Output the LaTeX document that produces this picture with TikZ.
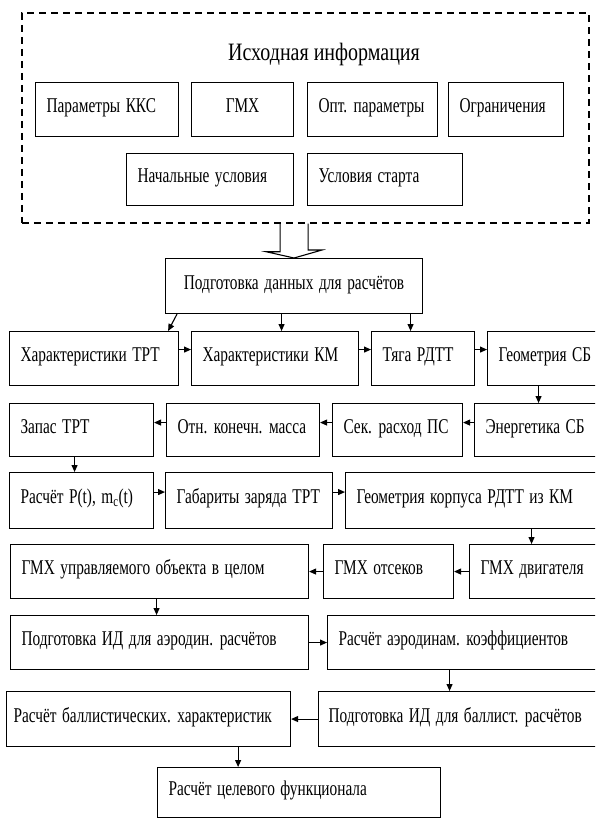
\documentclass[tikz,border=0pt]{standalone}
\usepackage{fontspec}
\setmainfont{Liberation Serif}[FakeStretch=0.73]
\newfontfamily\titlefont{Liberation Serif}[FakeStretch=0.8]
\usetikzlibrary{arrows.meta}

\tikzset{
  blk/.style={draw, line width=1.1pt, anchor=north west, inner xsep=11pt, inner ysep=0pt,
    text height=14pt, text depth=8pt, align=left, font=\fontsize{21}{24}\selectfont,
    execute at begin node={\spaceskip=5.5pt plus 1pt\xspaceskip=6.5pt plus 1pt\hbox to\hsize\bgroup},
    execute at end node={\hfil\egroup}},
  cblk/.style={draw, line width=1.1pt, anchor=north west, inner xsep=11pt, inner ysep=0pt,
    text height=14pt, text depth=8pt, align=center, font=\fontsize{21}{24}\selectfont,
    execute at begin node={\spaceskip=5.5pt plus 1pt\relax}},
  infobox/.style={draw, dash pattern=on 7pt off 5pt, line width=1.7pt, anchor=north west, inner sep=0pt},
  hollow/.style={line width=1.1pt, line join=miter},
  arr/.style={line width=1.1pt, -{Triangle[length=7pt,width=6pt]}},
}

\begin{document}
\begin{tikzpicture}[x=1pt, y=-1pt]
  \useasboundingbox (0,0) rectangle (595,819);
  \clip (0,0) rectangle (595,819);

  \node[infobox, minimum width=567pt, minimum height=210pt] (info) at (21,12) {};
  \node[font=\titlefont\fontsize{25}{28}\selectfont] (ttl) at (324,54) {Исходная информация};
  \node[blk, text width=121pt, minimum height=54pt] (kks) at (35,82) {Параметры ККС};
  \node[cblk, text width=80pt, minimum height=54pt] (gmx) at (191,82) {ГМХ};
  \node[blk, text width=108pt, minimum height=54pt] (opt) at (307,82) {Опт. параметры};
  \node[blk, text width=93pt, minimum height=54pt] (ogr) at (448,82) {Ограничения};
  \node[blk, text width=145pt, minimum height=52pt] (nu) at (126,153) {Начальные условия};
  \node[blk, text width=133pt, minimum height=52pt] (us) at (307,153) {Условия старта};

  \node[cblk, text width=235pt, minimum height=55pt] (pd) at (165,258) {Подготовка данных для расчётов};
  \draw[hollow] ([xshift=-14pt]pd.north |- info.south) -- ++(0,28) -- ++(-14,0) -- (pd.north)
    -- ++(28,-8) -- ++(-14,0) -- ([xshift=14pt]pd.north |- info.south);

  \node[blk, text width=147pt, minimum height=54pt] (htr) at (9,331) {Характеристики ТРТ};
  \node[blk, text width=145pt, minimum height=54pt] (hkm) at (191,331) {Характеристики КМ};
  \node[blk, text width=81pt, minimum height=54pt] (tyg) at (371,331) {Тяга РДТТ};
  \node[blk, text width=106pt, minimum height=54pt] (gsb) at (487,331) {Геометрия СБ};

  \node[blk, text width=122pt, minimum height=53pt] (ztr) at (9,403) {Запас ТРТ};
  \node[blk, text width=131pt, minimum height=53pt] (okm) at (166,403) {Отн. конечн. масса};
  \node[blk, text width=108pt, minimum height=53pt] (srp) at (332,403) {Сек. расход ПС};
  \node[blk, text width=119pt, minimum height=53pt] (esb) at (474,403) {Энергетика СБ};

  \node[blk, text width=122pt, minimum height=56pt] (rpt) at (9,472) {Расчёт P(t), m\textsubscript{c}(t)};
  \node[blk, text width=145pt, minimum height=56pt] (gzt) at (165,472) {Габариты заряда ТРТ};
  \node[blk, text width=248pt, minimum height=56pt] (gkr) at (345,472) {Геометрия корпуса РДТТ из КМ};

  \node[blk, text width=276pt, minimum height=54pt] (gob) at (10,544) {ГМХ управляемого объекта в целом};
  \node[blk, text width=108pt, minimum height=54pt] (got) at (323,544) {ГМХ отсеков};
  \node[blk, text width=124pt, minimum height=54pt] (gdv) at (469,544) {ГМХ двигателя};

  \node[blk, text width=276pt, minimum height=54pt] (ida) at (10,615) {Подготовка ИД для аэродин. расчётов};
  \node[blk, text width=266pt, minimum height=54pt] (rak) at (327,615) {Расчёт аэродинам. коэффициентов};

  \node[blk, inner xsep=7pt, text width=270pt, minimum height=55pt] (rbh) at (6,691) {Расчёт баллистических. характеристик};
  \node[blk, inner xsep=10pt, text width=277pt, minimum height=55pt] (idb) at (318,691) {Подготовка ИД для баллист. расчётов};

  \node[blk, text width=261pt, minimum height=50pt] (rcf) at (157,767) {Расчёт целевого функционала};

  \draw[arr] ([xshift=12pt]pd.south west) -- ([xshift=-11pt]htr.north east);
  \draw[arr] ([xshift=6.5pt]hkm.north |- pd.south) -- ([xshift=6.5pt]hkm.north);
  \draw[arr] ([xshift=-12.5pt]tyg.north |- pd.south) -- ([xshift=-12.5pt]tyg.north);

  \draw[arr] ([yshift=9pt]htr.east) -- ([yshift=9pt]hkm.west);
  \draw[arr] ([yshift=9pt]hkm.east) -- ([yshift=9pt]tyg.west);
  \draw[arr] ([yshift=9pt]tyg.east) -- ([yshift=9pt]gsb.west);
  \draw[arr] ([xshift=-6.5pt]esb.north |- gsb.south) -- ([xshift=-6.5pt]esb.north);

  \draw[arr] ([yshift=7.5pt]esb.west) -- ([yshift=7.5pt]srp.east);
  \draw[arr] ([yshift=7.5pt]srp.west) -- ([yshift=7.5pt]okm.east);
  \draw[arr] ([yshift=7.5pt]okm.west) -- ([yshift=7.5pt]ztr.east);
  \draw[arr] ([xshift=-7pt]ztr.south) -- ([xshift=-7pt]rpt.north);

  \draw[arr] ([yshift=8.5pt]rpt.east) -- ([yshift=8.5pt]gzt.west);
  \draw[arr] ([yshift=8.5pt]gzt.east) -- ([yshift=8.5pt]gkr.west);
  \draw[arr] ([xshift=-11pt]gdv.north |- gkr.south) -- ([xshift=-11pt]gdv.north);

  \draw[arr] (gdv.west) -- (got.east);
  \draw[arr] (got.west) -- (gob.east);
  \draw[arr] ([xshift=-3pt]gob.south) -- ([xshift=-3pt]ida.north);

  \draw[arr] (ida.east) -- (rak.west);
  \draw[arr] ([xshift=-17.5pt]idb.north |- rak.south) -- ([xshift=-17.5pt]idb.north);

  \draw[arr] (idb.west) -- (rbh.east);
  \draw[arr] ([xshift=-53pt]rbh.south east) -- ([xshift=-53pt]rbh.south east |- rcf.north);
\end{tikzpicture}
\end{document}
